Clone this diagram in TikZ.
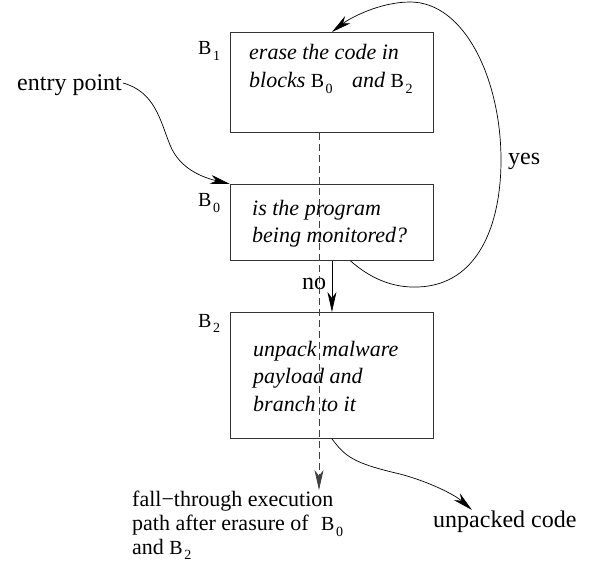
\documentclass[tikz,border=0pt]{standalone}
\usepackage{fontspec}
\setmainfont{Liberation Serif}
\usetikzlibrary{arrows.meta,calc}

% block name: upright B with a lowered index
\newcommand\blkname[1]{{\upshape\fontsize{20}{20}\selectfont B}\kern1.5pt\raisebox{-5.5pt}{\upshape\fontsize{14}{14}\selectfont #1}}

\begin{document}
\begin{tikzpicture}[x=1pt,y=-1pt,
  box/.style={draw=black!80, line width=0.9pt, inner sep=0pt, anchor=north west, minimum width=203pt},
  lbl/.style={inner sep=0pt, anchor=base west, font=\fontsize{24}{24}\selectfont},
  txt/.style={inner sep=0pt, anchor=base west, font=\fontsize{22}{22}\selectfont\itshape},
  note/.style={inner sep=0pt, anchor=base west, font=\fontsize{22}{22}\selectfont},
  tag/.style={inner sep=0pt, anchor=base west},
  arr/.style={-{Stealth[length=20pt,width=9pt,inset=6pt]}, line width=0.7pt},
  fallpath/.style={arr, dash pattern=on 7pt off 4pt, draw=black!75}]
\useasboundingbox (0,0) rectangle (597,564);

% the three blocks
\node[box, minimum height=100pt] (B1) at (230,32) {};
\node[box, minimum height=76pt]  (B0) at (230,184) {};
\node[box, minimum height=126pt] (B2) at (230,312) {};

% block names
\node[tag] (B1name) at (198,55)  {\blkname{1}};
\node[tag] (B0name) at (198,207) {\blkname{0}};
\node[tag] (B2name) at (198,327) {\blkname{2}};

% block contents
\node[txt] (B1a) at (249,60)   {erase the code in};
\node[txt] (B1b) at (249,87.7) {blocks \blkname{0}\hspace{14pt} and \blkname{2}};
\node[txt] (B0a) at (252,215)  {is the program};
\node[txt] (B0b) at (252,242.7){being monitored?};
\node[txt] (B2a) at (253,356)  {unpack malware};
\node[txt] (B2b) at (253,383)  {payload and};
\node[txt] (B2c) at (253,411)  {branch to it};

% outside labels
\node[lbl] (entry) at (17,90.5) {entry point};
\node[lbl] (yes)   at (508,165) {yes};
\node[lbl] (no)    at (302,289) {no};
\node[lbl] (unpacked) at (433,527) {unpacked code};
\node[note] (fall1) at (132,506) {fall\textminus through execution};
\node[note] (fall2) at (132,530.5) {path after erasure of\hspace{7pt} \blkname{0}};
\node[note] (fall3) at (132,554) {and \blkname{2}};

% connectors
\coordinate (entrystart) at ($(entry.base east)+(1,-7.5)$);
\draw[arr] (entrystart) .. controls (155,92) and (160,120) .. (170,145)
  .. controls (180,170) and (205,178) .. (B0.north west);

\coordinate (yesstart) at ($(B0.south)+(18.5,0)$);
\draw[arr] (yesstart) .. controls (370,278) and (392,288) .. (418,287)
  .. controls (478,285) and (501,225) .. (501,160)
  .. controls (501,80) and (465,2) .. (410,2)
  .. controls (380,2) and (350,18) .. (B1.north);

\draw[arr] (B0.south) -- (B2.north);

\coordinate (falltip) at (319,490);
\draw[fallpath] (B1.south -| falltip) -- (falltip);

\coordinate (unpackedtip) at (472,510);
\draw[arr] (B2.south) .. controls (345,456) and (352,463) .. (400,474)
  .. controls (430,482) and (455,495) .. (unpackedtip);
\end{tikzpicture}
\end{document}
